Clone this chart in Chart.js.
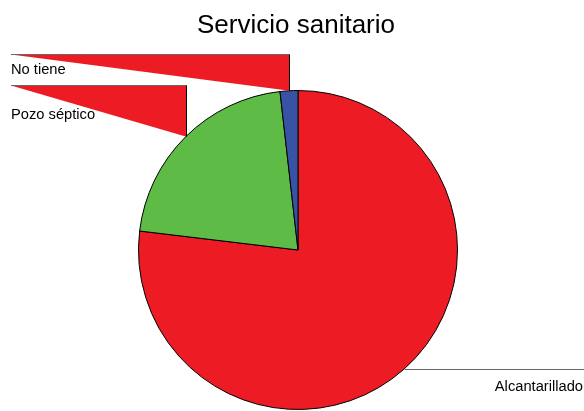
<!DOCTYPE html>
<html>
<head>
<meta charset="utf-8">
<script src="https://cdn.jsdelivr.net/npm/chart.js@4"></script>
<style>
  body { margin: 0; background: #fff; }
  canvas { display: block; }
</style>
</head>
<body>
<canvas id="pieChart" width="584" height="411"></canvas>
<script>
// data (percent of households)
var categories = ["Alcantarillado", "Pozo séptico", "No tiene"];
var shares = [76.9, 21.3, 1.8];
var sliceColors = ["#ED1C24", "#5DBB46", "#3953A4"];
var chartTitle = "Servicio sanitario";

// where the left callouts sit: y of the horizontal rule, and label baseline
var leftRows = { 1: [85.5, 119], 2: [54.5, 73.5] };
var labelFont = "14.7px 'Liberation Sans', Arial, sans-serif";

var titlePlugin = {
    id: "titleText",
    afterDraw: function (chart) {
        var ctx = chart.ctx;
        ctx.save();
        ctx.fillStyle = "#000";
        ctx.font = "26px 'Liberation Sans', Arial, sans-serif";
        ctx.textAlign = "center";
        ctx.textBaseline = "alphabetic";
        ctx.fillText(chartTitle, 296, 33);
        ctx.restore();
    }
};

var calloutPlugin = {
    id: "callouts",
    afterDatasetsDraw: function (chart) {
        var ctx = chart.ctx;
        var arcs = chart.getDatasetMeta(0).data;
        ctx.save();
        ctx.font = labelFont;
        ctx.fillStyle = "#000";
        arcs.forEach(function (arc, i) {
            var p = arc.getProps(["x", "y", "startAngle", "endAngle", "outerRadius"], true);
            var mid = (p.startAngle + p.endAngle) / 2;
            var ax = Math.round(p.x + Math.cos(mid) * p.outerRadius) + 0.5;
            var ay = p.y + Math.sin(mid) * p.outerRadius;

            if (leftRows[i] !== undefined) {
                var row = leftRows[i][0];
                // red wedge
                ctx.beginPath();
                ctx.moveTo(11, row);
                ctx.lineTo(ax, row);
                ctx.lineTo(ax, ay);
                ctx.closePath();
                ctx.fillStyle = "#ED1C24";
                ctx.fill();
                // rules
                ctx.lineWidth = 1;
                ctx.strokeStyle = "#666";
                ctx.beginPath();
                ctx.moveTo(11, row);
                ctx.lineTo(ax, row);
                ctx.stroke();
                ctx.strokeStyle = "#000";
                ctx.beginPath();
                ctx.moveTo(ax, row);
                ctx.lineTo(ax, ay);
                ctx.stroke();
                ctx.fillStyle = "#000";
                ctx.textAlign = "left";
                ctx.fillText(categories[i], 11, leftRows[i][1]);
            } else {
                var ly = Math.round(ay) + 0.5;
                ctx.lineWidth = 1;
                ctx.strokeStyle = "#666";
                ctx.beginPath();
                ctx.moveTo(ax, ly);
                ctx.lineTo(584, ly);
                ctx.stroke();
                ctx.fillStyle = "#000";
                ctx.textAlign = "right";
                ctx.fillText(categories[i], 583, ly + 21);
            }
        });
        ctx.restore();
    }
};

var ctx = document.getElementById("pieChart").getContext("2d");
var myChart = new Chart(ctx, {
    type: "pie",
    data: {
        labels: categories,
        datasets: [{
            data: shares,
            backgroundColor: sliceColors,
            borderColor: "#000",
            borderWidth: 1,
        }],
    },
    options: {
        responsive: false,
        animation: false,
        layout: {
            padding: { left: 138, right: 126, top: 90, bottom: 1 }
        },
        plugins: {
            legend: { display: false },
            tooltip: { enabled: false },
            title: { display: false },
        },
    },
    plugins: [calloutPlugin, titlePlugin],
});
</script>
</body>
</html>
